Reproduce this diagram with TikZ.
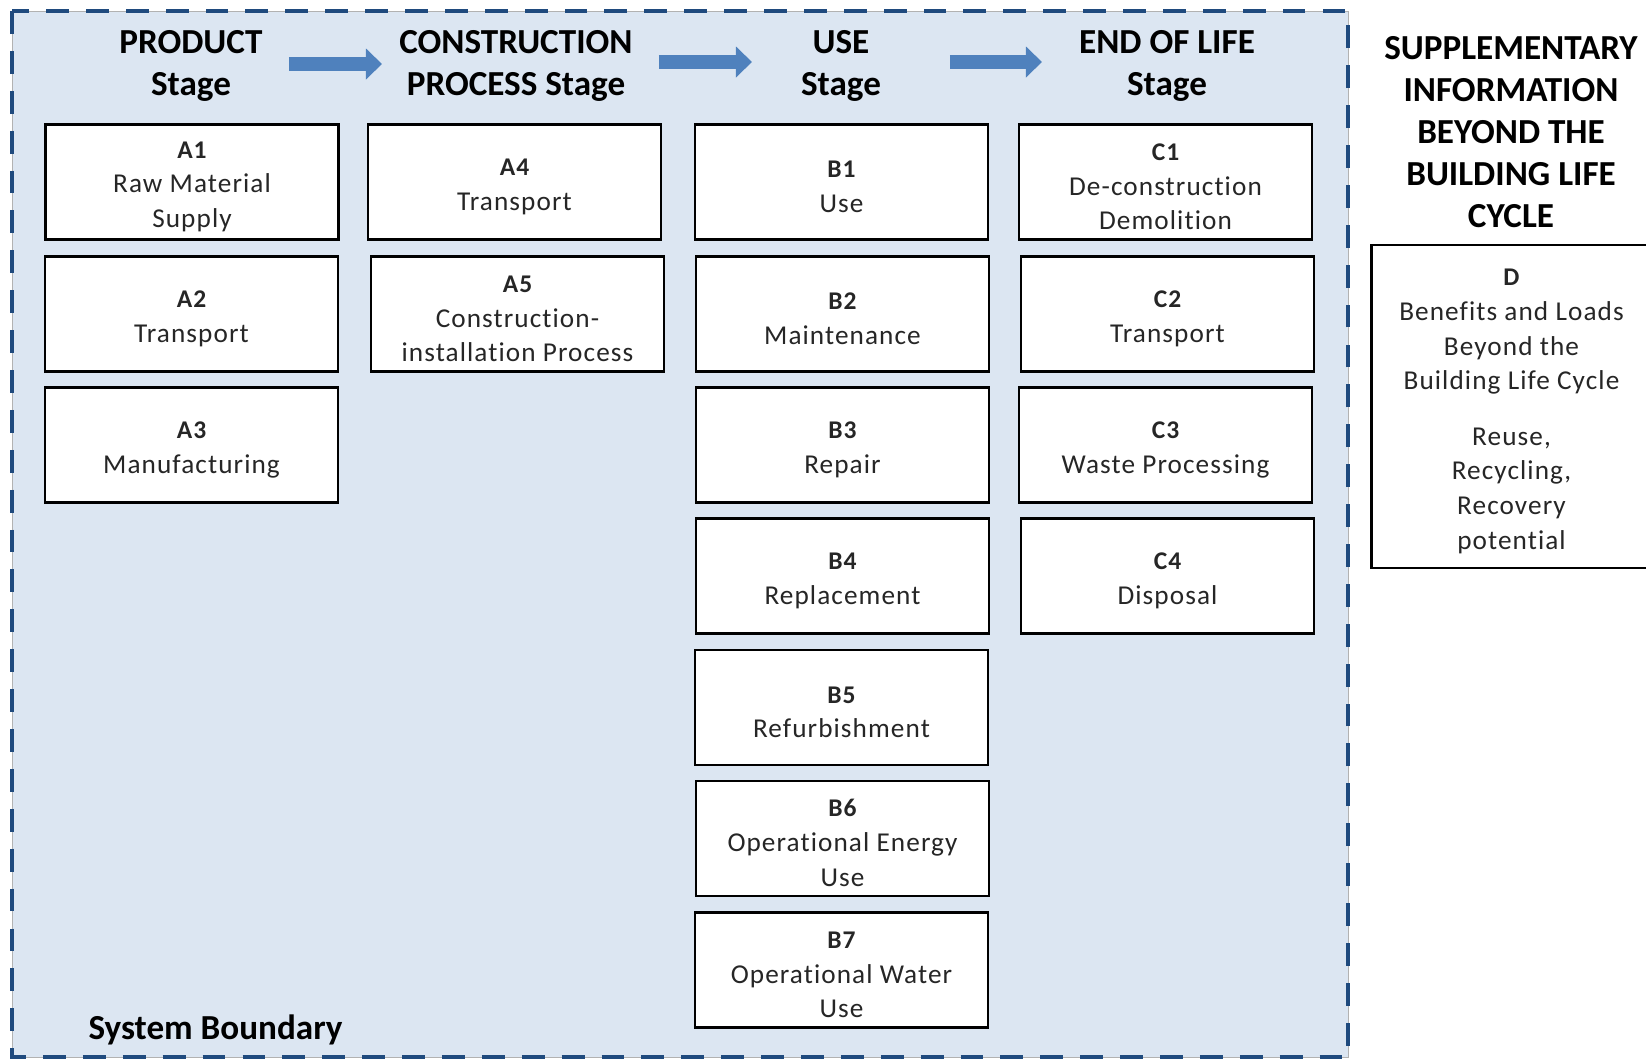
\documentclass[tikz,border=0pt]{standalone}
\usepackage{fontspec}
\setmainfont{Carlito}
\newfontfamily\boxfont[LetterSpace=4,Ligatures=NoCommon]{Carlito}
\usepackage{tikz}
\usetikzlibrary{arrows.meta}
\definecolor{bgblue}{HTML}{DCE6F2}
\definecolor{dashblue}{HTML}{1F4A7E}
\definecolor{arrowblue}{HTML}{4F81BD}
\newcommand{\blab}[1]{{\fontsize{14.5}{19.7}\selectfont\bfseries\rule{0pt}{15pt}#1}}

\begin{document}
\begin{tikzpicture}[scale=0.2]
                \tikzstyle{every node}+=[inner sep=0pt]
                \tikzstyle{stagebox}=[draw=black, line width=1.6pt, fill=white, minimum width=5.86cm, minimum height=2.3cm, align=center, text=black!85, font=\boxfont\fontsize{15.5}{19.7}\selectfont]
                \tikzstyle{heading}=[align=center, text=black, font=\bfseries\fontsize{20}{23.9}\selectfont]
                \tikzstyle{stagearrow}=[draw=arrowblue, line width=0.28cm, -{Triangle[length=0.32cm, width=0.6cm]}]
                \useasboundingbox (0,0) rectangle (164.6,-105.9);
                % system boundary
                \draw [fill=bgblue, draw=black!30, line width=0.5pt] (1.2,-1.1) rectangle (134.8,-105.7);
                \draw [dashblue, line width=2.3pt, dash pattern=on 13pt off 9.7pt] (1.2,-1.1) rectangle (134.8,-105.7);
                \node [heading] (sysb) at (21.55,-103.0) {System Boundary};
                % stage headings
                \node [heading] (prod) at (19.1,-6.6) {PRODUCT\\Stage};
                \node [heading] (cons) at (51.6,-6.6) {CONSTRUCTION\\PROCESS Stage};
                \node [heading] (use) at (84.1,-6.6) {USE\\Stage};
                \node [heading] (eol) at (116.7,-6.6) {END OF LIFE\\Stage};
                \node [heading] (supp) at (151.1,-13.2) {SUPPLEMENTARY\\INFORMATION\\BEYOND THE\\BUILDING LIFE\\CYCLE};
                % arrows between stages
                \coordinate (ar1s) at (28.9,-6.4);
                \coordinate (ar1e) at (38.2,-6.4);
                \coordinate (ar2s) at (65.9,-6.2);
                \coordinate (ar2e) at (75.2,-6.2);
                \coordinate (ar3s) at (95.0,-6.2);
                \coordinate (ar3e) at (104.2,-6.2);
                \draw [stagearrow] (ar1s) -- (ar1e);
                \draw [stagearrow] (ar2s) -- (ar2e);
                \draw [stagearrow] (ar3s) -- (ar3e);
                % product stage
                \node [stagebox] (A1) at (19.2,-18.2) {\blab{A1}\\Raw Material\\Supply};
                \node [stagebox] (A2) at (19.15,-31.4) {\blab{A2}\\Transport};
                \node [stagebox] (A3) at (19.15,-44.5) {\blab{A3}\\Manufacturing};
                % construction process stage
                \node [stagebox] (A4) at (51.45,-18.2) {\blab{A4}\\Transport};
                \node [stagebox] (A5) at (51.75,-31.4) {\blab{A5}\\Construction-\\installation Process};
                % use stage
                \node [stagebox] (B1) at (84.15,-18.2) {\blab{B1}\\Use};
                \node [stagebox] (B2) at (84.25,-31.4) {\blab{B2}\\Maintenance};
                \node [stagebox] (B3) at (84.25,-44.5) {\blab{B3}\\Repair};
                \node [stagebox] (B4) at (84.25,-57.6) {\blab{B4}\\Replacement};
                \node [stagebox] (B5) at (84.15,-70.75) {\blab{B5}\\Refurbishment};
                \node [stagebox] (B6) at (84.25,-83.85) {\blab{B6}\\Operational Energy\\Use};
                \node [stagebox] (B7) at (84.15,-97.0) {\blab{B7}\\Operational Water\\Use};
                % end of life stage
                \node [stagebox] (C1) at (116.55,-18.2) {\blab{C1}\\De-construction\\Demolition};
                \node [stagebox] (C2) at (116.75,-31.4) {\blab{C2}\\Transport};
                \node [stagebox] (C3) at (116.55,-44.5) {\blab{C3}\\Waste Processing};
                \node [stagebox] (C4) at (116.75,-57.6) {\blab{C4}\\Disposal};
                % beyond the system boundary
                \node [stagebox, minimum width=5.6cm, minimum height=6.46cm] (D) at (151.15,-40.65) {\blab{D}\\Benefits and Loads\\Beyond the\\Building Life Cycle\\[12pt]Reuse,\\Recycling,\\Recovery\\potential};
\end{tikzpicture}
\end{document}
